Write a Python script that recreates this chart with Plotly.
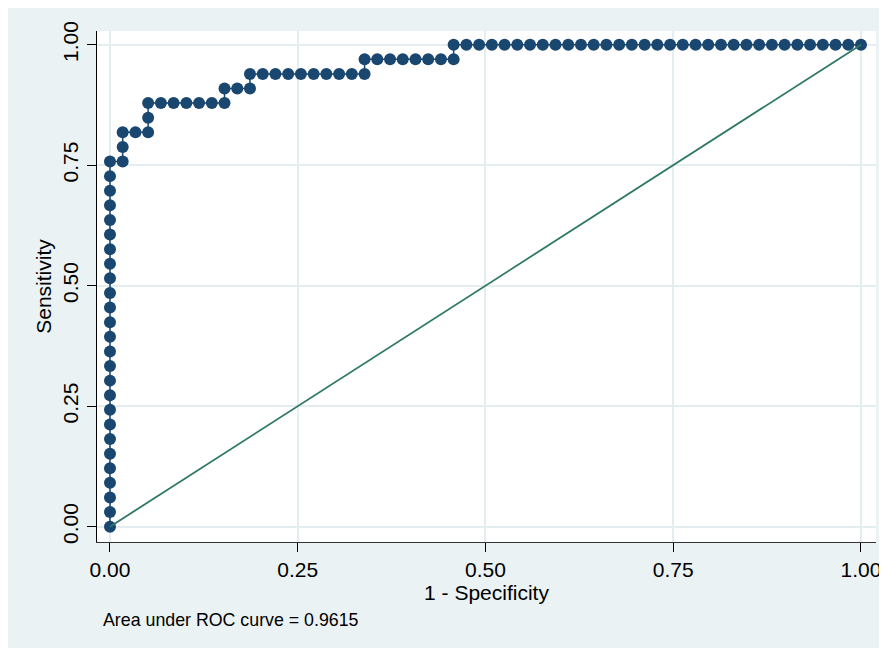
import plotly.graph_objects as go

# ROC points (1 - specificity, sensitivity)
fpr = [0.0, 0.0, 0.0, 0.0, 0.0, 0.0, 0.0, 0.0, 0.0, 0.0,
       0.0, 0.0, 0.0, 0.0, 0.0, 0.0, 0.0, 0.0, 0.0, 0.0,
       0.0, 0.0, 0.0, 0.0, 0.0, 0.0,
       0.0169, 0.0169, 0.0169,
       0.0339,
       0.0508, 0.0508, 0.0508,
       0.0678, 0.0847, 0.1017, 0.1186, 0.1356,
       0.1525, 0.1525,
       0.1695,
       0.1864, 0.1864,
       0.2034, 0.2203, 0.2373, 0.2542, 0.2712, 0.2881, 0.3051, 0.3220,
       0.3390, 0.3390,
       0.3559, 0.3729, 0.3898, 0.4068, 0.4237, 0.4407,
       0.4576, 0.4576,
       0.4746, 0.4915, 0.5085, 0.5254, 0.5424, 0.5593, 0.5763, 0.5932,
       0.6102, 0.6271, 0.6441, 0.6610, 0.6780, 0.6949, 0.7119, 0.7288,
       0.7458, 0.7627, 0.7797, 0.7966, 0.8136, 0.8305, 0.8475, 0.8644,
       0.8814, 0.8983, 0.9153, 0.9322, 0.9492, 0.9661, 0.9831, 1.0]

tpr = [0.0, 0.0303, 0.0606, 0.0909, 0.1212, 0.1515, 0.1818, 0.2121, 0.2424, 0.2727,
       0.3030, 0.3333, 0.3636, 0.3939, 0.4242, 0.4545, 0.4848, 0.5152, 0.5455, 0.5758,
       0.6061, 0.6364, 0.6667, 0.6970, 0.7273, 0.7576,
       0.7576, 0.7879, 0.8182,
       0.8182,
       0.8182, 0.8485, 0.8788,
       0.8788, 0.8788, 0.8788, 0.8788, 0.8788,
       0.8788, 0.9091,
       0.9091,
       0.9091, 0.9394,
       0.9394, 0.9394, 0.9394, 0.9394, 0.9394, 0.9394, 0.9394, 0.9394,
       0.9394, 0.9697,
       0.9697, 0.9697, 0.9697, 0.9697, 0.9697, 0.9697,
       0.9697, 1.0,
       1.0, 1.0, 1.0, 1.0, 1.0, 1.0, 1.0, 1.0,
       1.0, 1.0, 1.0, 1.0, 1.0, 1.0, 1.0, 1.0,
       1.0, 1.0, 1.0, 1.0, 1.0, 1.0, 1.0, 1.0,
       1.0, 1.0, 1.0, 1.0, 1.0, 1.0, 1.0, 1.0]

diag_x = [0.0, 1.0]
diag_y = [0.0, 1.0]

tick_vals = [0.0, 0.25, 0.5, 0.75, 1.0]
tick_text = ["0.00", "0.25", "0.50", "0.75", "1.00"]

auc_text = "Area under ROC curve = 0.9615"
x_title = "1 - Specificity"
y_title = "Sensitivity"

W, H = 887, 640
ML, MR, MT, MB = 89, 19, 23, 106
PW, PH = W - ML - MR, H - MT - MB

def px_x(p):
    return (p - ML) / PW

def px_y(p):
    return (H - MB - p) / PH

FONT = "Arial, Liberation Sans, sans-serif"
BG = "#eaf2f3"
GRID = "#e4eef0"
NAVY = "#1a476f"
GREEN = "#2e7866"

fig = go.Figure()
fig.add_trace(go.Scatter(
    x=fpr, y=tpr, mode="lines+markers",
    line=dict(color=NAVY, width=1.5),
    marker=dict(color=NAVY, size=12, line=dict(width=0)),
    showlegend=False, hoverinfo="x+y"))
fig.add_trace(go.Scatter(
    x=diag_x, y=diag_y, mode="lines",
    line=dict(color=GREEN, width=1.8),
    showlegend=False, hoverinfo="skip"))

axis_common = dict(
    tickvals=tick_vals, ticktext=tick_text,
    ticks="outside", ticklen=9, tickwidth=1, tickcolor="#000000",
    showgrid=True, gridcolor=GRID, gridwidth=2,
    zeroline=False, showline=True, linewidth=1,
    tickfont=dict(family=FONT, size=21, color="#000000"),
)

fig.update_xaxes(
    range=[-0.0173, 1.02], linecolor="#333333",
    title=dict(text=x_title, font=dict(family=FONT, size=21, color="#000000"), standoff=0),
    **axis_common)
fig.update_yaxes(
    range=[-0.0318, 1.0284], linecolor="#000000", tickangle=-90,
    title=dict(text=y_title, font=dict(family=FONT, size=21, color="#000000"), standoff=1),
    ticklabelstandoff=1,
    **axis_common)

fig.add_annotation(
    text=auc_text, xref="paper", yref="paper",
    x=px_x(93), y=px_y(612), xanchor="left", yanchor="middle",
    showarrow=False, font=dict(family=FONT, size=17.8, color="#000000"))

fig.update_layout(
    width=W, height=H,
    margin=dict(l=ML, r=MR, t=MT, b=MB, pad=0),
    paper_bgcolor=BG, plot_bgcolor="#ffffff",
    font=dict(family=FONT, color="#000000"),
)

fig.write_html("out.html")
